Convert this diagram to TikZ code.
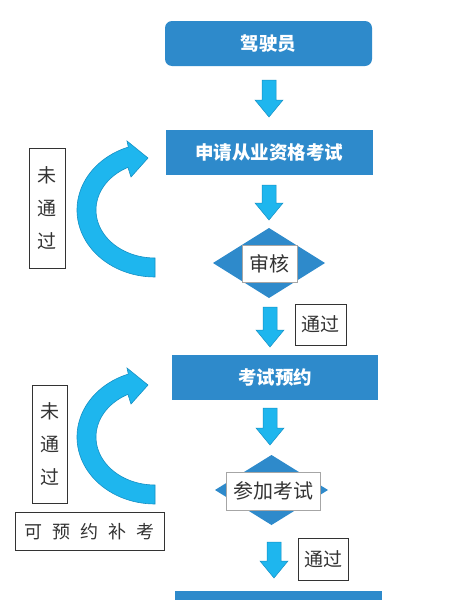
\documentclass[tikz,border=0pt]{standalone}
\usepackage{fontspec}
\newfontfamily\cjk{Noto Sans CJK SC}
\usetikzlibrary{shapes.geometric}
\definecolor{boxblue}{HTML}{2E8ACB}
\definecolor{arrblue}{HTML}{1EB6EE}
\definecolor{arredge}{HTML}{1590C4}
\definecolor{txtgray}{HTML}{333333}
\tikzset{
  bluebox/.style={fill=boxblue, draw=none, minimum width=207pt, minimum height=45pt, inner sep=0pt,
    text=white, font=\cjk\bfseries\fontsize{18.5}{20}\selectfont},
  labelbox/.style={draw=txtgray, line width=0.9pt, fill=white, inner sep=0pt, text=txtgray,
    font=\cjk\fontsize{19}{20}\selectfont},
  blockarrow/.style={fill=arrblue, draw=arredge, line width=0.5pt, line join=miter},
  curvarrow/.style={fill=arrblue, draw=arredge, line width=0.6pt, line join=miter}
}
\newcommand{\downarrowblock}[3]{% x, ytop, ybottom
  \fill[blockarrow] (#1-7,#2) -- (#1+7,#2) -- (#1+7,#3-17) -- (#1+14,#3-17) -- (#1,#3) -- (#1-14,#3-17) -- (#1-7,#3-17) -- cycle;
}
\begin{document}
\begin{tikzpicture}[x=1pt,y=-1pt]
\useasboundingbox[fill=white] (0,0) rectangle (451,600);

% main boxes
\node[bluebox, rounded corners=7pt] (b1) at (268.5,43.5) {驾驶员};
\node[bluebox] (b2) at (269,152.5) {申请从业资格考试};
\node[bluebox, minimum width=206pt] (b3) at (275,377.5) {考试预约};
\node[bluebox, minimum width=207pt, anchor=north west] (b4) at (175,591) {};

% diamonds
\path[fill=boxblue] (213,263) -- (269,228) -- (325,263) -- (269,298) -- cycle;
\node[labelbox, draw=gray!70, line width=0.6pt, minimum width=55pt, minimum height=37pt, font=\cjk\fontsize{20}{20}\selectfont] (d1) at (269.5,263.5) {审核};
\path[fill=boxblue] (215,490) -- (271.5,455) -- (328,490) -- (271.5,525) -- cycle;
\node[labelbox, draw=gray!70, line width=0.6pt, minimum width=94pt, minimum height=38pt, font=\cjk\fontsize{20}{20}\selectfont] (d2) at (273,491) {参加考试};

% block arrows
\downarrowblock{269}{80}{117}
\downarrowblock{269}{185}{220}
\downarrowblock{270}{307}{347}
\downarrowblock{270}{408}{445}
\downarrowblock{274}{542}{578}

% pass labels
\node[labelbox, minimum width=51pt, minimum height=41pt] (p1) at (320.5,324.5) {通过};
\node[labelbox, minimum width=50pt, minimum height=42pt] (p2) at (323,559) {通过};

% fail labels
\node[labelbox, minimum width=36pt, minimum height=120pt, align=center, font=\cjk\fontsize{19}{33}\selectfont] (f1) at (47,208) {未\\通\\过};
\node[labelbox, minimum width=35pt, minimum height=118pt, align=center, font=\cjk\fontsize{19}{33}\selectfont] (f2) at (49.5,444) {未\\通\\过};
\node[labelbox, minimum width=149pt, minimum height=38pt, font=\cjk\fontsize{18}{20}\selectfont] (r) at (89.5,531.5) {可\hspace{10pt}预\hspace{10pt}约\hspace{10pt}补\hspace{10pt}考};

% curved arrows
\foreach \dy in {0,227}{
  \filldraw[curvarrow]
    plot[domain=90:250, samples=50] ({155+78*cos(\x)},{210+\dy+67*sin(\x)})
    -- (127,141+\dy) -- (148,158+\dy) -- (131,177+\dy)
    -- plot[domain=242.7:90, samples=50] ({155+59*cos(\x)},{210+\dy+48*sin(\x)})
    -- cycle;
}
\end{tikzpicture}
\end{document}
